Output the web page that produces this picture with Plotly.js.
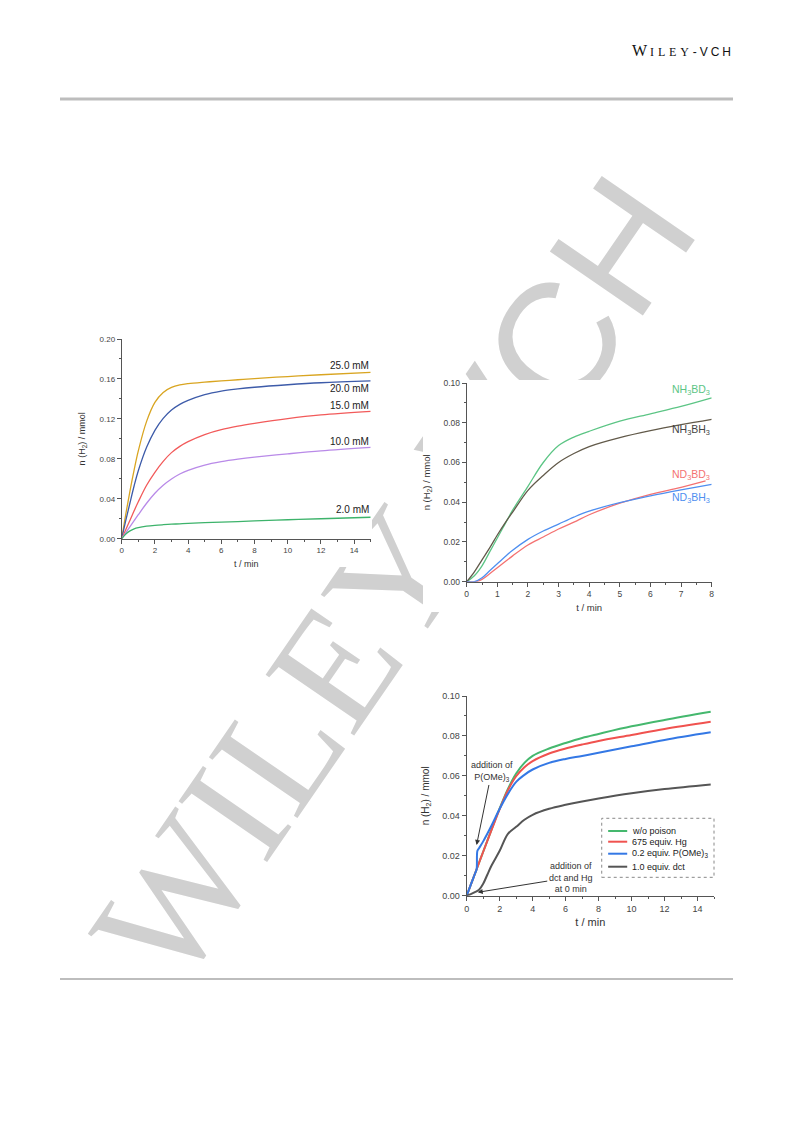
<!DOCTYPE html>
<html>
<head>
<meta charset="utf-8">
<script src="https://cdn.plot.ly/plotly-3.0.1.min.js"></script>
<style>
html,body{margin:0;padding:0;background:#fff;}
#wrap{position:relative;width:793px;height:1121px;}
#back,#front{position:absolute;left:0;top:0;width:793px;height:1121px;}
</style>
</head>
<body>
<div id="wrap"><div id="back"></div><div id="front"></div></div>
<script>
// ---------- Chart 1: concentration series ----------
const t1 = [0,0.25,0.5,0.75,1,1.5,2,2.5,3,3.5,4,5,6,7,8,10,12,15];
const c25 = [0,0.025,0.048,0.069,0.088,0.1175,0.1365,0.1465,0.1515,0.154,0.1553,0.1568,0.158,0.1592,0.1604,0.1624,0.1642,0.1666];
const c20 = [0,0.0185,0.036,0.053,0.068,0.0915,0.1085,0.1205,0.1288,0.1345,0.1385,0.1443,0.1478,0.150,0.1517,0.1542,0.1562,0.158];
const c15 = [0,0.0093,0.0185,0.028,0.037,0.0535,0.0665,0.0775,0.0862,0.0925,0.0972,0.1043,0.1092,0.1127,0.1155,0.1203,0.124,0.1275];
const c10 = [0,0.006,0.012,0.018,0.024,0.0355,0.0455,0.0535,0.0598,0.0648,0.0685,0.0738,0.0772,0.0797,0.0817,0.085,0.088,0.0915];
const c2  = [0,0.0048,0.0078,0.0098,0.011,0.0125,0.0134,0.014,0.0145,0.0149,0.0153,0.016,0.0166,0.0172,0.0178,0.019,0.020,0.0215];
const labels1 = ['25.0 mM','20.0 mM','15.0 mM','10.0 mM','2.0 mM'];
const labelY1 = [0.173,0.150,0.133,0.097,0.0288];

// ---------- Chart 2: isotope series ----------
const t2 = [0,0.25,0.5,0.75,1,1.25,1.5,2,2.5,3,3.5,4,5,6,7,8];
const nh3bd3 = [0,0.003,0.008,0.015,0.022,0.029,0.036,0.048,0.060,0.0685,0.0728,0.0757,0.0808,0.0845,0.0882,0.0925];
const nh3bh3 = [0,0.005,0.011,0.017,0.0235,0.0295,0.035,0.046,0.0535,0.060,0.0645,0.068,0.0725,0.076,0.079,0.0817];
const nd3bh3 = [0,0,0.002,0.0055,0.009,0.0125,0.0158,0.0213,0.0255,0.029,0.0325,0.0355,0.0398,0.0432,0.0462,0.049];
const t2r = [0,0.3,0.5,0.75,1,1.25,1.5,2,2.5,3,3.5,4,5,6,7,7.8];
const nd3bd3 = [0,0,0.0012,0.004,0.007,0.010,0.013,0.0185,0.0225,0.0265,0.030,0.0337,0.0395,0.044,0.0475,0.0507];
const labels2 = ['NH<sub>3</sub>BD<sub>3</sub>','NH<sub>3</sub>BH<sub>3</sub>','ND<sub>3</sub>BD<sub>3</sub>','ND<sub>3</sub>BH<sub>3</sub>'];
const labelY2 = [0.0965,0.0763,0.0537,0.042];

// ---------- Chart 3: poisoning series ----------
const t3 = [0,0.25,0.5,0.75,1,1.5,2,2.5,3,3.5,4,5,6,7,8,10,12,14.8];
const noPoison = [0,0.0055,0.011,0.0165,0.022,0.033,0.0437,0.0535,0.0612,0.0665,0.070,0.0737,0.0765,0.079,0.081,0.0848,0.088,0.0921];
const hg = [0,0.0055,0.011,0.0165,0.022,0.0328,0.0434,0.0528,0.0598,0.0643,0.0674,0.0712,0.0737,0.0757,0.0775,0.0805,0.0835,0.0871];
const t3b = [0,0.25,0.5,0.6,0.65,0.75,1,1.5,2,2.5,3,3.5,4,5,6,7,8,10,12,14.8];
const pome = [0,0.0055,0.011,0.0132,0.0225,0.0238,0.0272,0.035,0.0435,0.051,0.057,0.0605,0.0632,0.0665,0.0685,0.070,0.0716,0.0748,0.078,0.0818];
const t3d = [0,0.25,0.5,0.75,1,1.25,1.5,2,2.5,3,3.5,4,5,6,7,8,10,12,14.8];
const dct = [0,0.0008,0.0018,0.003,0.006,0.0105,0.015,0.0225,0.031,0.0345,0.038,0.0405,0.0435,0.0455,0.0472,0.0487,0.0513,0.0534,0.0557];
const legend3 = ['w/o poison','675 equiv. Hg','0.2 equiv. P(OMe)<sub>3</sub>','1.0 equiv. dct'];

const W = 793, H = 1121;
const px = x => x / W;
const py = y => 1 - y / H;
const AX = '#555';
const TF = 'Liberation Sans, Arial, sans-serif';

function xAxis(range, dtick, minor, dom, anchor, fs, tsize, standoff) {
  return {domain: dom, anchor: anchor, range: range, dtick: dtick, tick0: 0,
    showline: true, linecolor: AX, linewidth: 1, ticks: 'outside', ticklen: 4, tickcolor: AX,
    showgrid: false, zeroline: false, fixedrange: true,
    tickfont: {size: fs, color: '#444', family: TF},
    minor: {ticks: 'outside', ticklen: 2, dtick: minor, tick0: 0, tickcolor: AX, showgrid: false},
    title: {text: 't / min', font: {size: tsize, color: '#333', family: TF}, standoff: standoff}};
}
function yAxis(range, dtick, minor, dom, anchor, fs, tsize, standoff) {
  return {domain: dom, anchor: anchor, range: range, dtick: dtick, tick0: 0, tickformat: '.2f',
    showline: true, linecolor: AX, linewidth: 1, ticks: 'outside', ticklen: 4, tickcolor: AX,
    showgrid: false, zeroline: false, fixedrange: true,
    tickfont: {size: fs, color: '#444', family: TF},
    minor: {ticks: 'outside', ticklen: 2, dtick: minor, tick0: 0, tickcolor: AX, showgrid: false},
    title: {text: 'n (H<sub>2</sub>) / mmol', font: {size: tsize, color: '#333', family: TF}, standoff: standoff}};
}
function ln(x, y, color, width, xa, ya) {
  return {x: x, y: y, type: 'scatter', mode: 'lines', xaxis: xa, yaxis: ya,
    line: {color: color, width: width, shape: 'spline', smoothing: 1}, showlegend: false, hoverinfo: 'skip'};
}

const col1 = ['#d9a521','#3d5ba9','#f25a5a','#b98ae8','#3db36b'];
const col2 = ['#5cc585','#625a4a','#f47272','#4f8ff0'];
const col3 = ['#45b86e','#f0524f','#3478e5','#555555'];

const traces = [
  ln(t1, c25, col1[0], 1.3, 'x', 'y'),
  ln(t1, c20, col1[1], 1.3, 'x', 'y'),
  ln(t1, c15, col1[2], 1.3, 'x', 'y'),
  ln(t1, c10, col1[3], 1.3, 'x', 'y'),
  ln(t1, c2,  col1[4], 1.3, 'x', 'y'),
  ln(t2, nh3bd3, col2[0], 1.3, 'x2', 'y2'),
  ln(t2, nh3bh3, col2[1], 1.3, 'x2', 'y2'),
  ln(t2r, nd3bd3, col2[2], 1.3, 'x2', 'y2'),
  ln(t2, nd3bh3, col2[3], 1.3, 'x2', 'y2'),
  ln(t3, noPoison, col3[0], 2, 'x3', 'y3'),
  ln(t3, hg, col3[1], 2, 'x3', 'y3'),
  ln(t3b, pome, col3[2], 2, 'x3', 'y3'),
  ln(t3d, dct, col3[3], 2, 'x3', 'y3')
];

const annotations = [];
labels1.forEach((s, i) => annotations.push({text: s, x: 15, y: labelY1[i], xref: 'x', yref: 'y',
  xanchor: 'right', yanchor: 'middle', showarrow: false, font: {size: 10, color: '#222', family: TF}}));
const lc2 = [col2[0], '#444', col2[2], col2[3]];
labels2.forEach((s, i) => annotations.push({text: s, x: 8, y: labelY2[i], xref: 'x2', yref: 'y2',
  xanchor: 'right', yanchor: 'middle', showarrow: false, font: {size: 10.5, color: lc2[i], family: TF}}));

// legend of chart 3 (manual, dotted box)
const legY = [0.324, 0.2704, 0.2103, 0.1452];
const shapes = [];
legend3.forEach((s, i) => {
  annotations.push({text: s, x: 0.661, y: legY[i], xref: 'x3 domain', yref: 'y3 domain',
    xanchor: 'left', yanchor: 'middle', showarrow: false, font: {size: 9, color: '#222', family: TF}});
  shapes.push({type: 'line', xref: 'x3 domain', yref: 'y3 domain', x0: 0.572, x1: 0.649, y0: legY[i], y1: legY[i],
    line: {color: col3[i], width: 2}});
});
shapes.push({type: 'rect', xref: 'x3 domain', yref: 'y3 domain', x0: 0.546, x1: 1.0, y0: 0.092, y1: 0.3876,
  line: {color: '#888', width: 1, dash: 'dot'}});

// arrows in chart 3
annotations.push({text: 'addition of<br>P(OMe)<sub>3</sub>', x: 0.6, y: 0.0254, xref: 'x3', yref: 'y3',
  ax: 15, ay: -73, showarrow: true, arrowhead: 2, arrowsize: 1, arrowwidth: 1, arrowcolor: '#333',
  font: {size: 9, color: '#333', family: TF}});
annotations.push({text: 'addition of<br>dct and Hg<br>at 0 min', x: 0.67, y: 0.0017, xref: 'x3', yref: 'y3',
  ax: 93, ay: -15, showarrow: true, arrowhead: 2, arrowsize: 1, arrowwidth: 1, arrowcolor: '#333',
  font: {size: 9, color: '#333', family: TF}});

// header
annotations.push({text: '<span style="letter-spacing:3px">W</span><span style="font-size:12px;letter-spacing:3.8px">ILEY</span><span style="font-family:Liberation Sans, Arial;font-size:12px;letter-spacing:3px">-VC</span><span style="font-family:Liberation Sans, Arial;font-size:12px">H</span>',
  x: px(733), y: py(57), xref: 'paper', yref: 'paper', xanchor: 'right', yanchor: 'bottom', yshift: -4,
  showarrow: false, font: {size: 16, color: '#111', family: 'Liberation Serif, Times New Roman, serif'}});

// page rules and white chart panels (cover watermark)
shapes.push({type: 'line', xref: 'paper', yref: 'paper', x0: px(60), x1: px(733), y0: py(99), y1: py(99), line: {color: '#bdbdbd', width: 3}});
shapes.push({type: 'line', xref: 'paper', yref: 'paper', x0: px(60), x1: px(733), y0: py(979), y1: py(979), line: {color: '#bdbdbd', width: 2}});
[[75, 325, 372, 567], [423, 380, 740, 612], [420, 685, 740, 935]].forEach(r => shapes.push({
  type: 'rect', layer: 'below', xref: 'paper', yref: 'paper', x0: px(r[0]), x1: px(r[2]), y0: py(r[3]), y1: py(r[1]),
  fillcolor: '#ffffff', line: {width: 0}}));

const layout = {
  width: W, height: H, margin: {l: 0, r: 0, t: 0, b: 0},
  paper_bgcolor: 'rgba(0,0,0,0)', plot_bgcolor: '#ffffff', showlegend: false,
  xaxis: xAxis([0, 15], 2, 1, [px(121.7), px(370.7)], 'y', 8, 9, 6),
  yaxis: yAxis([0, 0.2], 0.04, 0.02, [py(538.7), py(339)], 'x', 8, 9, 12),
  xaxis2: xAxis([0, 8], 1, 0.5, [px(466.7), px(711.7)], 'y2', 8.5, 9.5, 6),
  yaxis2: yAxis([0, 0.1], 0.02, 0.01, [py(581.7), py(383)], 'x2', 8.5, 9.5, 11),
  xaxis3: xAxis([0, 15], 2, 1, [px(466.7), px(714)], 'y3', 9, 11, 5),
  yaxis3: yAxis([0, 0.1], 0.02, 0.01, [py(895.7), py(696)], 'x3', 9, 10, 10),
  annotations: annotations, shapes: shapes
};

// watermark (behind charts)
const backLayout = {
  width: W, height: H, margin: {l: 0, r: 0, t: 0, b: 0},
  paper_bgcolor: '#ffffff', plot_bgcolor: '#ffffff',
  xaxis: {visible: false}, yaxis: {visible: false},
  annotations: [{text: 'WILEY<span style="font-family:Liberation Sans, Arial">-VCH</span>',
    x: px(392), y: py(580), xref: 'paper', yref: 'paper', showarrow: false, textangle: -55.5,
    font: {size: 164, color: '#d0d0d0', family: 'Liberation Serif, Times New Roman, serif'}}]
};
Plotly.newPlot('back', [], backLayout, {staticPlot: true});
Plotly.newPlot('front', traces, layout, {staticPlot: true});
</script>
</body>
</html>
